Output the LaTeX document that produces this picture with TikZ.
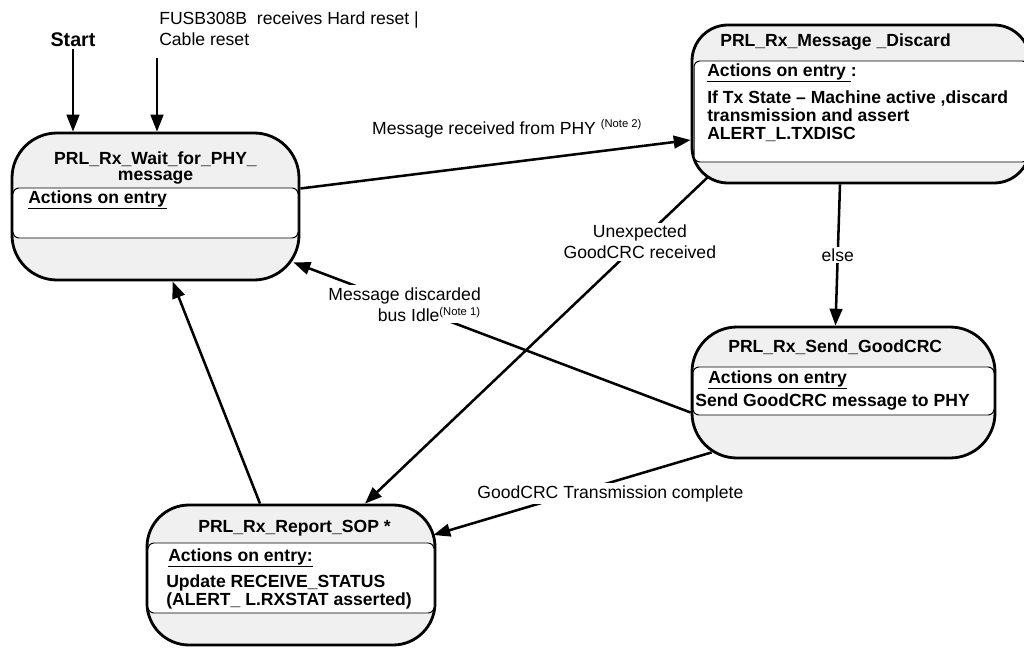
\documentclass[tikz,border=0pt]{standalone}
\usepackage{fontspec}
\setmainfont{Liberation Sans}
\usetikzlibrary{arrows.meta}

\newdimen\px
\px=0.025cm

\tikzset{
  state/.style={draw, line width=2pt, fill=black!6, inner sep=0pt, rounded corners=#1},
  state/.default=42\px,
  actbox/.style={draw, line width=0.7pt, fill=white, inner sep=0pt, rounded corners=6\px},
  title/.style={font=\bfseries\fontsize{12.5}{12}\selectfont, inner sep=0pt, align=center},
  acttext/.style={font=\bfseries\fontsize{12.5}{12.8}\selectfont, inner sep=0pt, align=left},
  lbl/.style={font=\fontsize{12.5}{15}\selectfont, inner sep=2\px, align=center},
  trans/.style={line width=1.8pt, -{Triangle[length=12pt, width=9pt]}}
}
\newcommand{\note}[1]{\textsuperscript{\fontsize{8}{8}\selectfont(Note #1)}}

\begin{document}
\begin{tikzpicture}[x=0.025cm, y=-0.025cm]
\useasboundingbox (0,0) rectangle (1024,648);
\clip (0,0) rectangle (1024,648);

% wait for message
\node[state=45\px, minimum width=287\px, minimum height=147\px] (wait) at (155.5,206.5) {};
\node[actbox, minimum width=285\px, minimum height=50\px] (waitact) at (155.5,213) {};
\node[title, anchor=north] (waitname) at (155.5,151) {PRL\_Rx\_Wait\_for\_PHY\_\\message};
\node[acttext, anchor=west] (waithead) at (28,200) {\underline{Actions on entry}};

% discard
\node[state=36\px, minimum width=338\px, minimum height=158\px] (discard) at (861,104) {};
\node[actbox, minimum width=334\px, minimum height=101\px] (discact) at (861,111.5) {};
\node[title, anchor=west] (discname) at (720,42) {PRL\_Rx\_Message \_Discard};
\node[acttext, anchor=west] (dischead) at (707,73) {\underline{Actions on entry\ }:};
\node[acttext, anchor=north west] (discbody) at (707,90) {If Tx State -- Machine active ,discard\\transmission and assert\\ALERT\_L.TXDISC};

% send goodcrc
\node[state=45\px, minimum width=303\px, minimum height=131\px] (send) at (843.5,392.5) {};
\node[actbox, minimum width=301\px, minimum height=48\px] (sendact) at (843.5,391) {};
\node[title, anchor=west] (sendname) at (728,347) {PRL\_Rx\_Send\_GoodCRC};
\node[acttext, anchor=west] (sendhead) at (708,380) {\underline{Actions on entry}};
\node[acttext, anchor=west] (sendbody) at (695,402) {Send GoodCRC message to PHY};

% report sop
\node[state=42\px, minimum width=288\px, minimum height=140\px] (report) at (291,575) {};
\node[actbox, minimum width=286\px, minimum height=70\px] (reportact) at (291,578) {};
\node[title, anchor=west] (reportname) at (198,528) {PRL\_Rx\_Report\_SOP *};
\node[acttext, anchor=west] (reporthead) at (168,558) {\underline{Actions on entry:}};
\node[acttext, anchor=north west] (reportbody) at (166,574) {Update RECEIVE\_STATUS\\(ALERT\_ L.RXSTAT asserted)};

% entry points
\node[font=\bfseries\fontsize{14}{16}\selectfont, inner sep=2\px] (start) at (73,40) {Start};
\node[lbl, anchor=north west, align=left, inner sep=0pt] (reset) at (159,11) {FUSB308B~ receives Hard reset |\\Cable reset};
\coordinate (resetfoot) at (157,58);
\draw[trans] (start.south) -- (start.south |- wait.north);
\draw[trans] (resetfoot) -- (resetfoot |- wait.north);

% transitions
\draw[trans] ([yshift=18\px]wait.east) -- node[lbl, pos=0.53, yshift=34\px] {Message received from PHY \note{2}} ([yshift=-36\px]discard.west);
\draw[trans] ([xshift=-21\px]discard.south) -- node[lbl, fill=white] {else} ([xshift=-8\px]send.north);
\draw[trans] ([xshift=18\px, yshift=8\px]discard.south west) -- node[lbl, fill=white, pos=0.2] {Unexpected\\GoodCRC received} ([xshift=74\px]report.north);
\draw[trans] ([yshift=-20\px]send.west) -- node[lbl, fill=white, pos=0.72, align=right] {Message discarded\\bus Idle\note{1}} ([xshift=-7\px, yshift=19\px]wait.south east);
\draw[trans] ([xshift=21\px, yshift=7\px]send.south west) -- node[lbl, fill=white, pos=0.364, yshift=-11\px] {GoodCRC Transmission complete} ([xshift=-3\px, yshift=40\px]report.east);
\draw[trans] ([xshift=-31\px]report.north) -- ([xshift=17\px]wait.south);
\end{tikzpicture}
\end{document}
